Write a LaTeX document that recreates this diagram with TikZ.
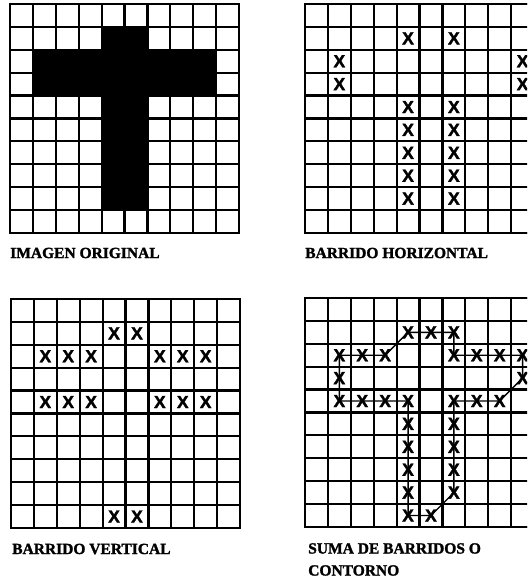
\documentclass[tikz,border=0pt]{standalone}
\usepackage{fontspec}
\setmainfont[BoldFeatures={FakeBold=1.6}]{Liberation Serif}
\newfontfamily\xsans[BoldFeatures={FakeBold=2}]{Liberation Sans}
\tikzset{
  cel/.style={line width=2.2pt,step=1},
  rim/.style={line width=2.8pt},
  xm/.style={inner sep=0pt,font=\xsans\bfseries\fontsize{17.5}{17.5}\selectfont},
  lbl/.style={anchor=west,inner sep=0pt,font=\bfseries\fontsize{15.5}{22}\selectfont},
  ln/.style={line width=1.4pt},
  every picture/.style={line width=0.5pt},
}
\begin{document}
\begin{tikzpicture}[x=1pt,y=1pt]
\path[use as bounding box,clip] (0,0) rectangle (527,580);
% imagen original
\begin{scope}[shift={(10pt,347pt)},x=22.9pt,y=22.9pt]
\fill (4,9)--(6,9)--(6,8)--(9,8)--(9,6)--(6,6)--(6,1)--(4,1)--(4,6)--(1,6)--(1,8)--(4,8)--cycle;
\draw[cel] (0,0) grid (10,10); \draw[rim] (0,0) rectangle (10,10);
\end{scope}
\node[lbl] (tOrig) at (10,327) {IMAGEN ORIGINAL};
% barrido horizontal
\begin{scope}[shift={(305pt,347pt)},x=22.9pt,y=22.9pt]
\draw[cel] (0,0) grid (10,10); \draw[rim] (0,0) rectangle (10,10);
\node[xm] (h14) at (4.5,8.5){X}; \node[xm] (h16) at (6.5,8.5){X};
\node[xm] (h21) at (1.5,7.5){X}; \node[xm] (h29) at (9.5,7.5){X};
\node[xm] (h31) at (1.5,6.5){X}; \node[xm] (h39) at (9.5,6.5){X};
\node[xm] (h44) at (4.5,5.5){X}; \node[xm] (h46) at (6.5,5.5){X};
\node[xm] (h54) at (4.5,4.5){X}; \node[xm] (h56) at (6.5,4.5){X};
\node[xm] (h64) at (4.5,3.5){X}; \node[xm] (h66) at (6.5,3.5){X};
\node[xm] (h74) at (4.5,2.5){X}; \node[xm] (h76) at (6.5,2.5){X};
\node[xm] (h84) at (4.5,1.5){X}; \node[xm] (h86) at (6.5,1.5){X};
\end{scope}
\node[lbl] (tHor) at (305,327) {BARRIDO HORIZONTAL};
% barrido vertical
\begin{scope}[shift={(11pt,52pt)},x=22.9pt,y=22.9pt]
\draw[cel] (0,0) grid (10,10); \draw[rim] (0,0) rectangle (10,10);
\node[xm] (v14) at (4.5,8.5){X}; \node[xm] (v15) at (5.5,8.5){X};
\node[xm] (v21) at (1.5,7.5){X}; \node[xm] (v22) at (2.5,7.5){X}; \node[xm] (v23) at (3.5,7.5){X};
\node[xm] (v26) at (6.5,7.5){X}; \node[xm] (v27) at (7.5,7.5){X}; \node[xm] (v28) at (8.5,7.5){X};
\node[xm] (v41) at (1.5,5.5){X}; \node[xm] (v42) at (2.5,5.5){X}; \node[xm] (v43) at (3.5,5.5){X};
\node[xm] (v46) at (6.5,5.5){X}; \node[xm] (v47) at (7.5,5.5){X}; \node[xm] (v48) at (8.5,5.5){X};
\node[xm] (v94) at (4.5,0.5){X}; \node[xm] (v95) at (5.5,0.5){X};
\end{scope}
\node[lbl] (tVer) at (12,31) {BARRIDO VERTICAL};
% suma de barridos
\begin{scope}[shift={(305pt,53pt)},x=22.9pt,y=22.9pt]
\draw[cel] (0,0) grid (10,10); \draw[rim] (0,0) rectangle (10,10);
\node[xm] (s14) at (4.5,8.5){X}; \node[xm] (s15) at (5.5,8.5){X}; \node[xm] (s16) at (6.5,8.5){X};
\node[xm] (s21) at (1.5,7.5){X}; \node[xm] (s22) at (2.5,7.5){X}; \node[xm] (s23) at (3.5,7.5){X};
\node[xm] (s26) at (6.5,7.5){X}; \node[xm] (s27) at (7.5,7.5){X}; \node[xm] (s28) at (8.5,7.5){X};
\node[xm] (s29) at (9.5,7.5){X};
\node[xm] (s31) at (1.5,6.5){X}; \node[xm] (s39) at (9.5,6.5){X};
\node[xm] (s41) at (1.5,5.5){X}; \node[xm] (s42) at (2.5,5.5){X}; \node[xm] (s43) at (3.5,5.5){X};
\node[xm] (s44) at (4.5,5.5){X}; \node[xm] (s46) at (6.5,5.5){X}; \node[xm] (s47) at (7.5,5.5){X};
\node[xm] (s48) at (8.5,5.5){X};
\node[xm] (s54) at (4.5,4.5){X}; \node[xm] (s56) at (6.5,4.5){X};
\node[xm] (s64) at (4.5,3.5){X}; \node[xm] (s66) at (6.5,3.5){X};
\node[xm] (s74) at (4.5,2.5){X}; \node[xm] (s76) at (6.5,2.5){X};
\node[xm] (s84) at (4.5,1.5){X}; \node[xm] (s86) at (6.5,1.5){X};
\node[xm] (s94) at (4.5,0.5){X}; \node[xm] (s95) at (5.5,0.5){X};
\draw[ln] (s14.center)--(s15.center)--(s16.center)--(s26.center)--(s27.center)--(s28.center)
  --(s29.center)--(s39.center)--(s48.center)--(s47.center)--(s46.center)--(s56.center)
  --(s66.center)--(s76.center)--(s86.center)--(s95.center)--(s94.center)--(s84.center)
  --(s74.center)--(s64.center)--(s54.center)--(s44.center)--(s43.center)--(s42.center)
  --(s41.center)--(s31.center)--(s21.center)--(s22.center)--(s23.center)--cycle;
\end{scope}
\node[lbl,anchor=north west,align=left] (tSuma) at (308,37) {SUMA DE BARRIDOS O\\CONTORNO};
\end{tikzpicture}
\end{document}
